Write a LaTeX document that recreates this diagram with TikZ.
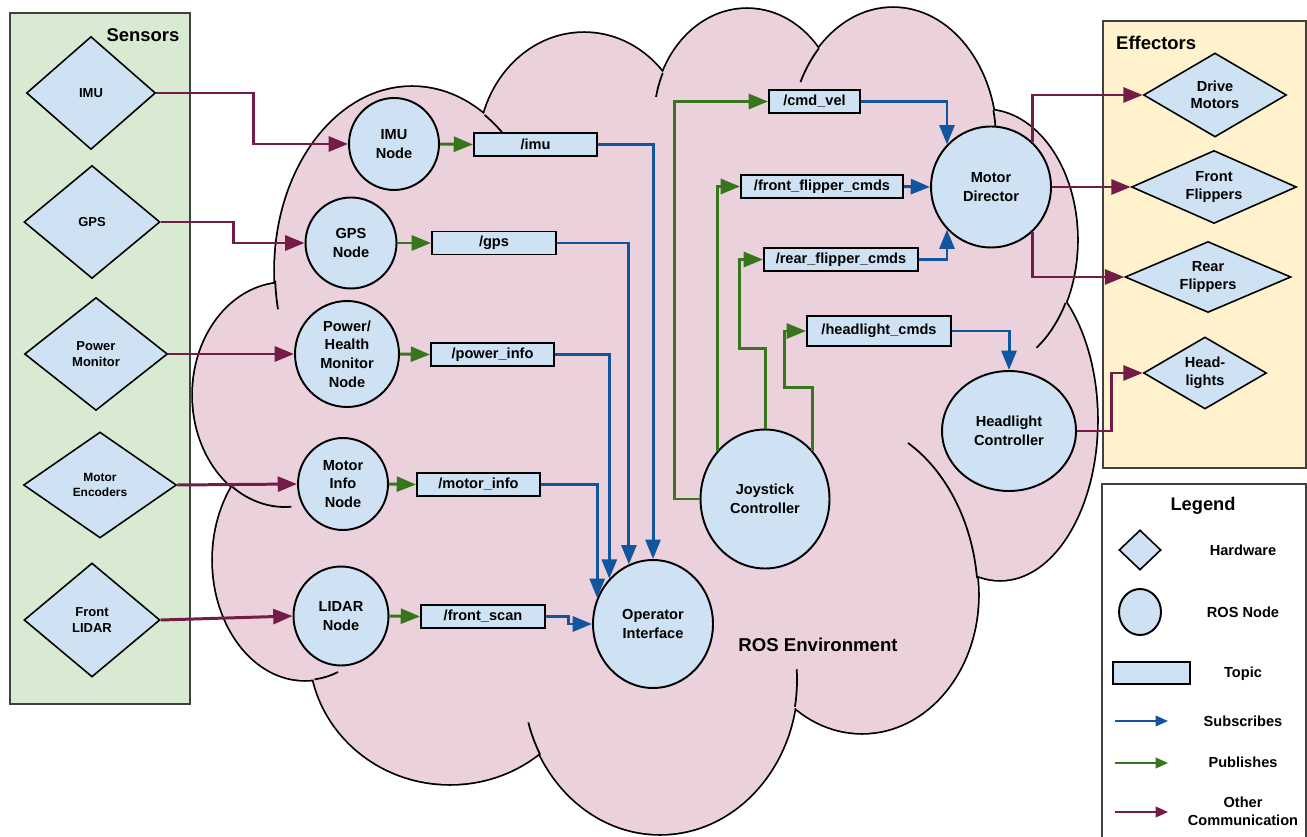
\documentclass[tikz,border=0pt]{standalone}
\usepackage{fontspec}
\setmainfont{Liberation Sans}
\usepackage{tikz}
\usetikzlibrary{shapes.geometric, arrows.meta}
\usepackage{xcolor}
\definecolor{nodeblue}{HTML}{CFE2F3}
\definecolor{cloudpink}{HTML}{EAD1DC}
\definecolor{sensorgreen}{HTML}{D9EAD3}
\definecolor{effectoryellow}{HTML}{FFF2CC}
\definecolor{subblue}{RGB}{17,85,160}
\definecolor{pubgreen}{HTML}{38761D}
\definecolor{othermaroon}{HTML}{741B47}
\tikzset{
    hardware/.style={diamond, draw, fill=nodeblue, line width=0.9pt, aspect=1.7, inner sep=0pt, align=center, font=\fontsize{7.4}{9}\selectfont\bfseries},
    effector/.style={font=\fontsize{8.3}{10}\selectfont\bfseries},
    rosnode/.style={ellipse, draw, fill=nodeblue, line width=1.1pt, inner sep=0pt, align=center, font=\fontsize{8.3}{10.6}\selectfont\bfseries},
    topic/.style={rectangle, draw, fill=nodeblue, line width=1.1pt, inner sep=0pt, minimum height=0.46cm, font=\fontsize{8.3}{10}\selectfont\bfseries},
    subarrow/.style={draw=subblue, line width=1.7pt, -{Triangle[length=11pt,width=8.5pt]}},
    pubarrow/.style={draw=pubgreen, line width=1.7pt, -{Triangle[length=11pt,width=8.5pt]}},
    otherarrow/.style={draw=othermaroon, line width=1.7pt, -{Triangle[length=11pt,width=8.5pt]}},
    legendarrow/.style={line width=1.1pt, -{Triangle[length=7pt,width=6pt]}},
    legendtext/.style={font=\fontsize{8.3}{10}\selectfont\bfseries, align=center},
    titletext/.style={font=\fontsize{10.5}{12}\selectfont\bfseries},
    groupbox/.style={draw=black!75, line width=1.1pt}
}
\def\lobes{412/271/137/184, 584/150/105/117, 747/120/93/111, 893/140/103/132, 985/240/92/130, 1000/420/97/160, 862/595/116/138, 660/680/137/154, 450/650/140/134, 305/560/92/120, 285/395/92/112}

\begin{document}
\begin{tikzpicture}[x=0.02cm, y=-0.02cm]
    \useasboundingbox (0,0) rectangle (1307,837);

    \foreach \cx/\cy/\rx/\ry in \lobes
        \filldraw[fill=cloudpink, draw=black, line width=2pt] (\cx,\cy) ellipse [x radius=\rx, y radius=\ry];
    \foreach \cx/\cy/\rx/\ry in \lobes
        \fill[cloudpink] (\cx,\cy) ellipse [x radius=\rx, y radius=\ry];
    \fill[cloudpink] (640,430) ellipse [x radius=350, y radius=300];
    \foreach \cx/\cy/\rx/\ry/\sa/\ea in {412/271/137/184/177/168, 412/271/137/184/-58/-44, 747/120/93/111/192/205, 893/140/103/132/206/224, 893/140/103/132/-13/-5, 985/240/92/130/29/56, 660/680/137/154/-4/10, 660/680/137/154/151/164, 305/560/92/120/84/69, 285/395/92/112/125/86}
        \draw[line width=1pt] ({\cx+\rx*cos(\sa)},{\cy+\ry*sin(\sa)}) arc [start angle=\sa, end angle=\ea, x radius=\rx, y radius=\ry];
    \draw[line width=1pt] (908,443) .. controls (945,470) and (972,520) .. (977,578);
    \node[font=\fontsize{10.6}{12}\selectfont\bfseries] (rosenv) at (818,645) {ROS Environment};

    \draw[groupbox, fill=sensorgreen] (10,13) rectangle (190,704);
    \node[titletext] (sensors) at (143,35) {Sensors};
    \draw[groupbox, fill=effectoryellow] (1103,21) rectangle (1306,468);
    \node[titletext, anchor=west] (effectors) at (1110,43) {Effectors};

    \node[hardware, minimum width=2.58cm, minimum height=2.26cm] (hw_imu) at (91,93) {IMU};
    \node[hardware, minimum width=2.72cm, minimum height=2.26cm] (hw_gps) at (92,222) {GPS};
    \node[hardware, minimum width=2.86cm, minimum height=2.26cm] (hw_power) at (96,354) {Power\\Monitor};
    \node[hardware, minimum width=3.06cm, minimum height=2.12cm, font=\fontsize{6.8}{8.4}\selectfont\bfseries] (hw_enc) at (100,485) {Motor\\Encoders};
    \node[hardware, minimum width=2.72cm, minimum height=2.28cm] (hw_lidar) at (92,620) {Front\\LIDAR};

    \node[hardware, effector, minimum width=2.86cm, minimum height=1.68cm] (hw_drive) at (1215,95) {Drive\\Motors};
    \node[hardware, effector, minimum width=3.3cm, minimum height=1.46cm] (hw_front) at (1214,187) {Front\\Flippers};
    \node[hardware, effector, minimum width=3.32cm, minimum height=1.42cm] (hw_rear) at (1208,277) {Rear\\Flippers};
    \node[hardware, effector, minimum width=2.46cm, minimum height=1.44cm] (hw_head) at (1205,373) {Head-\\lights};

    \node[rosnode, minimum width=1.8cm, minimum height=1.84cm] (n_imu) at (394,144) {IMU\\Node};
    \node[rosnode, minimum width=1.82cm, minimum height=1.82cm] (n_gps) at (351,243) {GPS\\Node};
    \node[rosnode, minimum width=2.08cm, minimum height=2.12cm] (n_power) at (347,354) {Power/\\Health\\Monitor\\Node};
    \node[rosnode, minimum width=1.8cm, minimum height=1.84cm] (n_minfo) at (343,484) {Motor\\Info\\Node};
    \node[rosnode, minimum width=1.9cm, minimum height=1.98cm] (n_lidar) at (341,616) {LIDAR\\Node};
    \node[rosnode, minimum width=2.4cm, minimum height=2.56cm] (n_oi) at (653,624) {Operator\\Interface};
    \node[rosnode, minimum width=2.58cm, minimum height=2.78cm] (n_joy) at (765,499) {Joystick\\Controller};
    \node[rosnode, minimum width=2.4cm, minimum height=2.42cm] (n_md) at (991,187) {Motor\\Director};
    \node[rosnode, minimum width=2.68cm, minimum height=2.4cm] (n_hc) at (1009,431) {Headlight\\Controller};

    \node[topic, minimum width=2.46cm] (t_imu) at (535.5,144.5) {/imu};
    \node[topic, minimum width=2.48cm] (t_gps) at (494,243) {/gps};
    \node[topic, minimum width=2.46cm] (t_power) at (492.5,354.5) {/power\_info};
    \node[topic, minimum width=2.46cm] (t_minfo) at (478.5,484.5) {/motor\_info};
    \node[topic, minimum width=2.48cm] (t_scan) at (483,616.5) {/front\_scan};
    \node[topic, minimum width=1.82cm] (t_cmdvel) at (814.5,101.5) {/cmd\_vel};
    \node[topic, minimum width=3.24cm] (t_ffc) at (822,186.5) {/front\_flipper\_cmds};
    \node[topic, minimum width=3.08cm] (t_rfc) at (841,259.5) {/rear\_flipper\_cmds};
    \node[topic, minimum width=2.88cm, minimum height=0.6cm] (t_hl) at (879,331) {/headlight\_cmds};

    \draw[otherarrow] (hw_imu.east) -- ++(97,0) |- (n_imu.west);
    \draw[otherarrow] (hw_gps.east) -- ++(73,0) |- (n_gps.west);
    \draw[otherarrow] (hw_power.east) -- (n_power.west);
    \draw[otherarrow] (hw_enc.east) -- (n_minfo.west);
    \draw[otherarrow] (hw_lidar.east) -- (n_lidar.west);
    \draw[otherarrow] (n_md.47) |- (hw_drive.west);
    \draw[otherarrow] (n_md.east) -- (hw_front.west);
    \draw[otherarrow] (n_md.-47) |- (hw_rear.west);
    \draw[otherarrow] (n_hc.east) -- ++(35,0) |- (hw_head.west);

    \draw[pubarrow] (n_imu.east) -- (t_imu.west);
    \draw[pubarrow] (n_gps.east) -- (t_gps.west);
    \draw[pubarrow] (n_power.east) -- (t_power.west);
    \draw[pubarrow] (n_minfo.east) -- (t_minfo.west);
    \draw[pubarrow] (n_lidar.east) -- (t_scan.west);
    \draw[pubarrow] (n_joy.west) -- ++(-25,0) |- (t_cmdvel.west);
    \draw[pubarrow] (n_joy.135) |- (t_ffc.west);
    \draw[pubarrow] (n_joy.north) -- ++(0,-80) -- ++(-26,0) |- (t_rfc.west);
    \draw[pubarrow] (n_joy.45) -- ++(0,-64) -- ++(-28,0) |- (t_hl.west);

    \draw[subarrow] (t_imu.east) -| (n_oi.north);
    \draw[subarrow] (t_gps.east) -| (n_oi.112);
    \draw[subarrow] (t_power.east) -| (n_oi.134);
    \draw[subarrow] (t_minfo.east) -| (n_oi.155);
    \draw[subarrow] (t_scan.east) -- ++(23,0) |- (n_oi.west);
    \draw[subarrow] (t_cmdvel.east) -| (n_md.136);
    \draw[subarrow] (t_ffc.east) -- (n_md.west);
    \draw[subarrow] (t_rfc.east) -| (n_md.224);
    \draw[subarrow] (t_hl.east) -| (n_hc.north);

    \draw[groupbox] (1102,845) |- (1306,484) -- (1306,845);
    \node[font=\fontsize{10.4}{12}\selectfont\bfseries] (leg_title) at (1203,506) {Legend};
    \node[hardware, minimum width=0.84cm, minimum height=0.8cm] (leg_hw) at (1140,550) {};
    \node[rosnode, minimum width=0.84cm, minimum height=0.92cm] (leg_node) at (1140,612) {};
    \node[topic, minimum width=1.54cm, minimum height=0.44cm] (leg_topic) at (1151.5,673) {};
    \coordinate (leg_sub_a) at (1115,721);
    \coordinate (leg_sub_b) at (1168,721);
    \coordinate (leg_pub_a) at (1115,763);
    \coordinate (leg_pub_b) at (1168,763);
    \coordinate (leg_oth_a) at (1115,812);
    \coordinate (leg_oth_b) at (1168,812);
    \draw[subarrow, legendarrow] (leg_sub_a) -- (leg_sub_b);
    \draw[pubarrow, legendarrow] (leg_pub_a) -- (leg_pub_b);
    \draw[otherarrow, legendarrow] (leg_oth_a) -- (leg_oth_b);
    \node[legendtext] (leg_hw_txt) at (1243,550) {Hardware};
    \node[legendtext] (leg_node_txt) at (1243,612) {ROS Node};
    \node[legendtext] (leg_topic_txt) at (1243,674) {Topic};
    \node[legendtext] (leg_sub_txt) at (1243,721) {Subscribes};
    \node[legendtext] (leg_pub_txt) at (1243,762) {Publishes};
    \node[legendtext] (leg_oth_txt) at (1243,811) {Other\\Communication};
\end{tikzpicture}
\end{document}
